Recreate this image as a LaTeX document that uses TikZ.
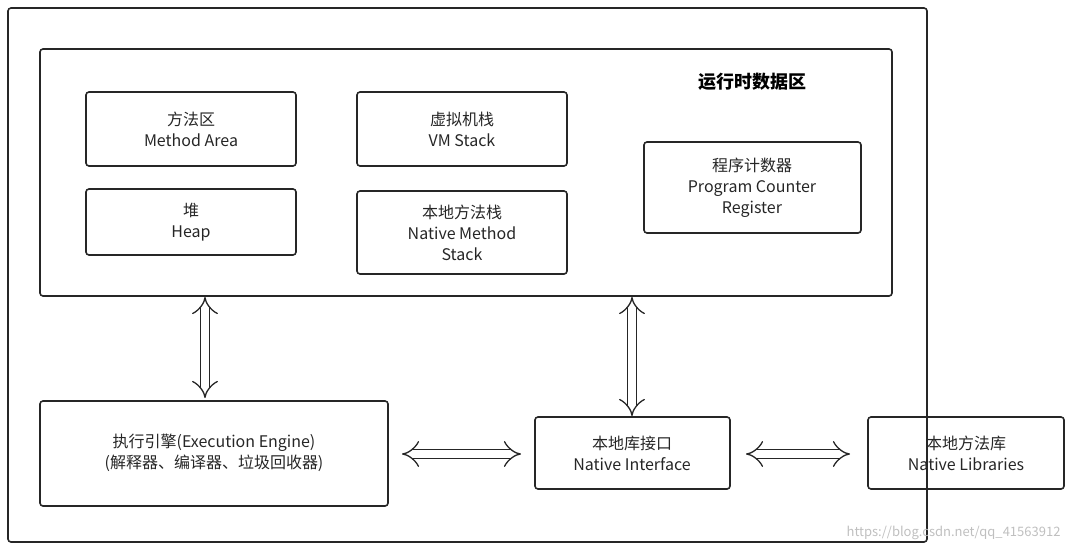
\documentclass[tikz,border=0pt]{standalone}
\usepackage{fontspec}
\setmainfont{Noto Sans CJK SC}
\usetikzlibrary{arrows.meta}
\begin{document}
\begin{tikzpicture}[x=1pt,y=-1pt,
  bx/.style={draw=black!85,line width=1.6pt,rounded corners=3pt},
  lbl/.style={align=center,font=\fontsize{16}{21}\selectfont,text=black!85},
  dar/.style={double=white,draw=black!85,line width=1.3pt,double distance=8pt,{Implies[length=6pt]}-{Implies[length=6pt]}}]
\useasboundingbox (0,0) rectangle (1072,552);
\draw[bx] (8,8) rectangle (927,542);
\draw[bx] (40,49) rectangle (892,296);
\node[font=\fontsize{18}{22}\selectfont\bfseries] (title) at (752,82) {运行时数据区};
\draw[bx] (86,92) rectangle (296,166); \node[lbl] (ma) at (191,129) {方法区\\Method Area};
\draw[bx] (357,92) rectangle (567,166); \node[lbl] (vm) at (462,129) {虚拟机栈\\VM Stack};
\draw[bx] (86,189) rectangle (296,255); \node[lbl] (hp) at (191,222) {堆\\Heap};
\draw[bx] (357,191) rectangle (567,274); \node[lbl] (ns) at (462,233) {本地方法栈\\Native Method\\Stack};
\draw[bx] (644,142) rectangle (861,233); \node[lbl] (pc) at (752,188) {程序计数器\\Program Counter\\Register};
\draw[bx] (40,401) rectangle (388,506); \node[lbl] (ee) at (214,453) {执行引擎(Execution Engine)\\(解释器、编译器、垃圾回收器)};
\draw[bx] (535,417) rectangle (730,489); \node[lbl] (ni) at (632,453) {本地库接口\\Native Interface};
\draw[bx] (868,417) rectangle (1064,489); \node[lbl] (nl) at (966,453) {本地方法库\\Native Libraries};
\coordinate (a1) at (205,297); \coordinate (a2) at (205,398);
\coordinate (b1) at (632,297); \coordinate (b2) at (632,416);
\coordinate (c1) at (402,454); \coordinate (c2) at (521,454);
\coordinate (d1) at (746,454); \coordinate (d2) at (850,454);
\draw[dar] (a1) -- (a2);
\draw[dar] (b1) -- (b2);
\draw[dar] (c1) -- (c2);
\draw[dar] (d1) -- (d2);
\node[text=black!25,font=\fontsize{13}{15}\selectfont,anchor=east] (wm) at (1064,533) {https://blog.csdn.net/qq\_41563912};
\end{tikzpicture}
\end{document}
